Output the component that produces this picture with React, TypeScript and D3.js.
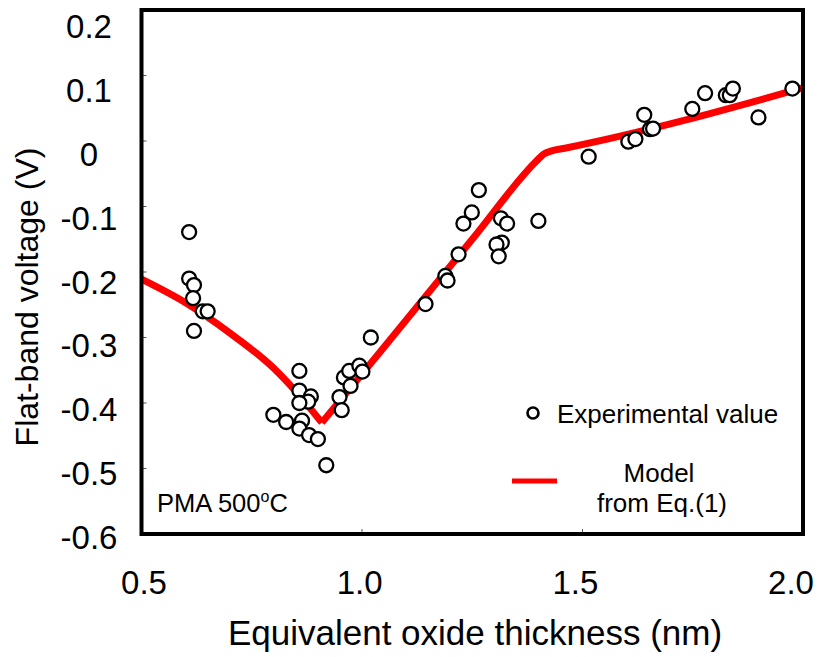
import React from "react";
import * as d3 from "d3";

// ---- data ----
const expX = [
  0.608, 0.608, 0.619, 0.617, 0.639, 0.650, 0.619,
  0.799, 0.828, 0.858, 0.858, 0.884, 0.878, 0.858, 0.864, 0.858, 0.880, 0.900, 0.919,
  0.949, 0.954, 0.959, 0.971, 0.974, 0.994, 1.001, 1.020,
  1.144, 1.189, 1.194, 1.219, 1.230, 1.249, 1.265, 1.315, 1.329, 1.317, 1.305, 1.310, 1.400,
  1.514, 1.604, 1.620, 1.640, 1.653, 1.660, 1.749, 1.778, 1.825, 1.834, 1.841, 1.899, 1.976,
];
const expY = [
  -0.139, -0.210, -0.220, -0.240, -0.260, -0.260, -0.290,
  -0.418, -0.429, -0.351, -0.381, -0.390, -0.398, -0.400, -0.427, -0.439, -0.449, -0.455, -0.495,
  -0.391, -0.411, -0.361, -0.351, -0.374, -0.343, -0.352, -0.300,
  -0.249, -0.206, -0.213, -0.173, -0.126, -0.109, -0.075, -0.118, -0.126, -0.155, -0.158, -0.176, -0.122,
  -0.024, -0.001, 0.003, 0.040, 0.018, 0.019, 0.049, 0.073, 0.070, 0.070, 0.080, 0.036, 0.080,
];

// model curve: descending branch (up to the minimum) and rising branch (from the minimum)
const modelLeftX = [0.5, 0.6, 0.7, 0.8, 0.86, 0.909];
const modelLeftY = [-0.211, -0.247, -0.293, -0.347, -0.390, -0.430];
const modelRightX = [0.909, 1.041, 1.25, 1.395, 1.412, 1.43, 1.46, 2.0];
const modelRightY = [-0.430, -0.322, -0.150, -0.031, -0.020, -0.015, -0.011, 0.081];

const xTicks = [0.5, 1.0, 1.5, 2.0];
const xTickLabels = ["0.5", "1.0", "1.5", "2.0"];
const yTicks = [0.2, 0.1, 0, -0.1, -0.2, -0.3, -0.4, -0.5, -0.6];
const yTickLabels = ["0.2", "0.1", "0", "-0.1", "-0.2", "-0.3", "-0.4", "-0.5", "-0.6"];

const xTitle = "Equivalent oxide thickness (nm)";
const yTitle = "Flat-band voltage (V)";
const legendExp = "Experimental value";
const legendModel1 = "Model";
const legendModel2 = "from Eq.(1)";

const W = 819;
const H = 657;
const FONT = "'Liberation Sans', Arial, sans-serif";

export default function App() {
  const x = d3.scaleLinear().domain([0.5, 2.0]).range([141.5, 803]);
  const y = d3.scaleLinear().domain([-0.6, 0.2]).range([534, 10]);
  // tick labels are laid out on a slightly compressed grid in the reference
  const xLab = d3.scaleLinear().domain([0.5, 2.0]).range([144, 791]);
  const yLab = d3.scaleLinear().domain([-0.6, 0.2]).range([537, 26]);

  const mkLine = (xs: number[], ys: number[]) =>
    d3
      .line<number>()
      .x((_, i) => x(xs[i]))
      .y((_, i) => y(ys[i]))
      .curve(d3.curveMonotoneX)(xs) || "";

  const [x0, x1] = x.range();
  const [yb, yt] = y.range();

  return (
    <svg
      width={W}
      height={H}
      style={{ position: "absolute", left: 0, top: 0, display: "block", background: "#fff" }}
      fontFamily={FONT}
    >
      <rect x={0} y={0} width={W} height={H} fill="#fff" />
      {/* model line */}
      <path d={mkLine(modelLeftX, modelLeftY)} fill="none" stroke="#ff0000" strokeWidth={7} strokeLinejoin="round" />
      <path d={mkLine(modelRightX, modelRightY)} fill="none" stroke="#ff0000" strokeWidth={7} strokeLinejoin="round" />
      {/* experimental points */}
      {expX.map((v, i) => (
        <circle key={i} cx={x(v)} cy={y(expY[i])} r={7} fill="#fff" stroke="#000" strokeWidth={2.3} />
      ))}
      {/* ticks */}
      {yTicks.map((t) => (
        <line key={"yt" + t} x1={x0} x2={x0 + 5} y1={y(t)} y2={y(t)} stroke="#555" strokeWidth={1} />
      ))}
      {xTicks.map((t) => (
        <line key={"xt" + t} x1={x(t)} x2={x(t)} y1={yb} y2={yb - 5} stroke="#555" strokeWidth={1} />
      ))}
      {/* frame */}
      <rect x={x0} y={yt} width={x1 - x0} height={yb - yt} fill="none" stroke="#000" strokeWidth={4} />
      {/* tick labels */}
      {yTicks.map((t, i) => (
        <text key={"yl" + t} x={89} y={yLab(t) + 12} fontSize={33} textAnchor="middle" fill="#000">
          {yTickLabels[i]}
        </text>
      ))}
      {xTicks.map((t, i) => (
        <text key={"xl" + t} x={xLab(t)} y={594} fontSize={33} textAnchor="middle" fill="#000">
          {xTickLabels[i]}
        </text>
      ))}
      {/* titles */}
      <text x={475} y={645} fontSize={35} textAnchor="middle" fill="#000">
        {xTitle}
      </text>
      <text transform="translate(38,297) rotate(-90)" fontSize={32} textAnchor="middle" fill="#000">
        {yTitle}
      </text>
      {/* legend */}
      <circle cx={533} cy={413} r={5.5} fill="#fff" stroke="#000" strokeWidth={2.6} />
      <text x={557} y={423} fontSize={26} fill="#000">
        {legendExp}
      </text>
      <line x1={512} x2={557} y1={481} y2={481} stroke="#ff0000" strokeWidth={5} />
      <text x={659} y={482} fontSize={26} textAnchor="middle" fill="#000">
        {legendModel1}
      </text>
      <text x={662} y={512} fontSize={26} textAnchor="middle" fill="#000">
        {legendModel2}
      </text>
      {/* annotation */}
      <text x={157} y={512} fontSize={25.5} fill="#000">
        PMA 500
        <tspan fontSize={16} dy={-10}>o</tspan>
        <tspan dy={10}>C</tspan>
      </text>
    </svg>
  );
}
